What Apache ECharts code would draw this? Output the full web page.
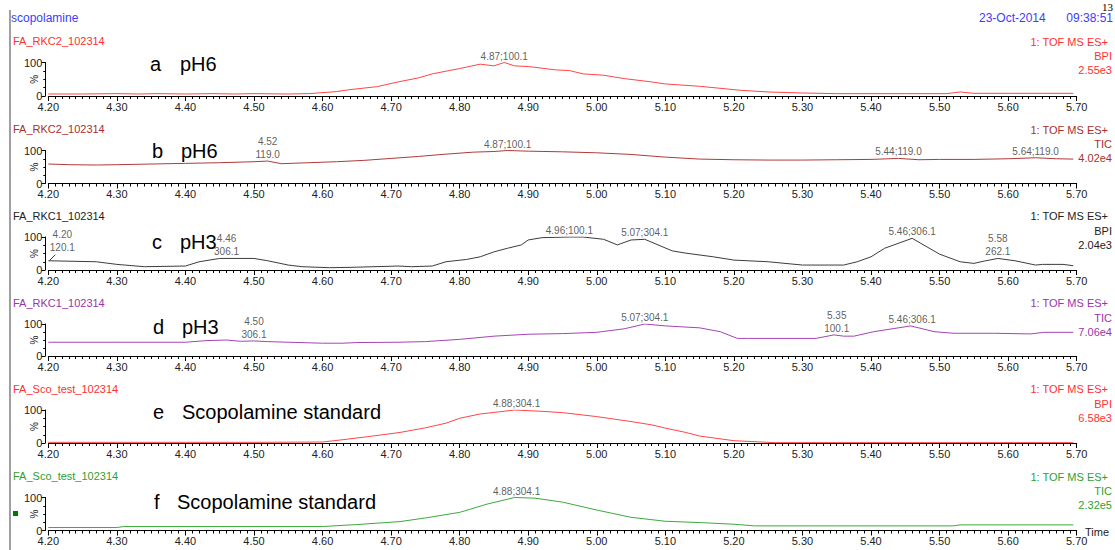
<!DOCTYPE html>
<html><head><meta charset="utf-8">
<script src="https://cdn.jsdelivr.net/npm/echarts@6/dist/echarts.min.js"></script>
<style>html,body{margin:0;padding:0;background:#fff}#c{width:1115px;height:550px}</style>
</head><body><div id="c"></div>
<script>
// ---------- data ----------
const tA = [4.20,4.25,4.30,4.33,4.36,4.40,4.44,4.47,4.50,4.55,4.58,4.62,4.64,4.68,4.71,4.74,4.76,4.80,4.83,4.85,4.865,4.88,4.90,4.94,4.96,4.98,5.01,5.04,5.08,5.10,5.15,5.21,5.25,5.30,5.35,5.45,5.51,5.53,5.55,5.60,5.65,5.695];
const vA = [6,6,7,6,7,6,7,6,7,6,7,13,19,28,42,54,66,82,95,90,100,90,88,78,76,66,62,52,42,36,29,17,12,9,7,7,7,12,8,8,8,8];
const tB = [4.20,4.23,4.27,4.30,4.35,4.40,4.45,4.50,4.52,4.54,4.58,4.62,4.66,4.70,4.74,4.78,4.82,4.85,4.87,4.90,4.95,5.00,5.05,5.10,5.15,5.20,5.25,5.30,5.35,5.40,5.44,5.47,5.50,5.55,5.60,5.64,5.67,5.695];
const vB = [59,57,56,57,59,61,63,66,68,60,63,66,70,76,82,89,95,97,100,98,96,93,88,80,74,72,71,71,72,73,76,72,73,73,75,78,75,74];
const tC = [4.20,4.27,4.30,4.34,4.40,4.42,4.45,4.50,4.52,4.55,4.57,4.61,4.64,4.71,4.73,4.76,4.78,4.81,4.83,4.85,4.87,4.89,4.90,4.92,4.96,4.98,5.01,5.03,5.05,5.07,5.11,5.13,5.17,5.20,5.25,5.30,5.36,5.38,5.40,5.42,5.46,5.50,5.53,5.55,5.565,5.585,5.61,5.64,5.65,5.68,5.695];
const vC = [28,25,17,10,12,25,35,35,28,15,10,7,8,12,10,12,25,32,40,55,66,76,91,98,100,100,93,76,91,93,58,51,40,30,25,15,15,25,40,66,96,48,25,20,27,35,28,15,17,17,13];
const tD = [4.20,4.30,4.40,4.43,4.46,4.48,4.50,4.52,4.55,4.60,4.63,4.65,4.71,4.75,4.80,4.85,4.90,4.95,5.00,5.04,5.07,5.10,5.15,5.18,5.205,5.22,5.32,5.346,5.36,5.375,5.404,5.458,5.492,5.521,5.58,5.633,5.652,5.695];
const vD = [43,43,43,48,50,46,47,45,43,40,40,42,43,45,52,62,68,70,74,85,100,94,88,76,55,55,55,66,62,62,76,94,76,71,71,69,74,74];
const tE = [4.20,4.30,4.40,4.50,4.60,4.63,4.665,4.684,4.713,4.75,4.78,4.80,4.83,4.86,4.88,4.92,4.95,5.00,5.05,5.08,5.10,5.13,5.15,5.20,5.26,5.35,5.45,5.55,5.695];
const vE = [2,2,2,2,3,10,19,24,32,46,60,75,88,95,100,96,92,80,65,55,45,32,21,7,1,1,1,1,1];
const tF = [4.20,4.30,4.31,4.45,4.60,4.65,4.713,4.75,4.80,4.84,4.88,4.91,4.95,5.00,5.05,5.10,5.151,5.20,5.23,5.35,5.52,5.53,5.695];
const vF = [9,9,12,12,12,18,27,38,55,80,100,98,86,62,40,28,24,19,14,14,14,17,17];

// peak annotations: [time, intensity %, text]
const annA = [[4.865,100,'4.87;100.1']];
const annB = [[4.52,68,'4.52\n119.0'],[4.87,100,'4.87;100.1'],[5.44,76,'5.44;119.0'],[5.64,78,'5.64;119.0']];
const annC = [[4.20,28,'4.20\n120.1'],[4.46,36,'4.46\n306.1'],[4.96,100,'4.96;100.1'],[5.07,93,'5.07;304.1'],[5.46,96,'5.46;306.1'],[5.585,35,'5.58\n262.1']];
const annD = [[4.50,48,'4.50\n306.1'],[5.07,100,'5.07;304.1'],[5.35,66,'5.35\n100.1'],[5.46,94,'5.46;306.1']];
const annE = [[4.883,100,'4.88;304.1']];
const annF = [[4.883,100,'4.88;304.1']];

const sampleNames = ['FA_RKC2_102314','FA_RKC2_102314','FA_RKC1_102314','FA_RKC1_102314','FA_Sco_test_102314','FA_Sco_test_102314'];
const panelLetters = ['a','b','c','d','e','f'];
const panelTitles = ['pH6','pH6','pH3','pH3','Scopolamine standard','Scopolamine standard'];
const functionName = '1: TOF MS ES+';
const traceTypes = ['BPI','TIC','BPI','TIC','BPI','TIC'];
const scaleValues = ['2.55e3','4.02e4','2.04e3','7.06e4','6.58e3','2.32e5'];
const headerTitle = 'scopolamine';
const headerDate = '23-Oct-2014';
const headerTime = '09:38:51';
const pageNumber = '13';
const xMin = 4.2, xMax = 5.7, xStep = 0.1;

// ---------- layout / style ----------
const FONT = "'Liberation Sans', Arial, sans-serif";
const lineColors = ['#ff4545','#b03a3a','#3c3c3c','#a444b4','#ff4545','#3caa3c'];
const textColors = ['#ff3030','#a83030','#222222','#9a34aa','#ff3030','#2f9f2f'];
const gridTops = [62.5,150.5,237,324,410,497.5];
const gridHeights = [33.5,33,33,32,33,33];
const letterX = [150,152,152,153,153,154];
const phraseX = [180,181,180,182,182,177];
const bigLabelDy = [1.5,0,4.5,2.5,1.5,4.5];
const GRID_LEFT = 48.3, GRID_W = 1028.4;

const times = [tA,tB,tC,tD,tE,tF];
const vals = [vA,vB,vC,vD,vE,vF];
const anns = [annA,annB,annC,annD,annE,annF];

const grids = [], xAxes = [], yAxes = [], series = [], graphics = [];
for (let i = 0; i < 6; i++) {
  grids.push({left: GRID_LEFT, width: GRID_W, top: gridTops[i], height: gridHeights[i]});
  xAxes.push({
    type: 'value', gridIndex: i, min: xMin, max: xMax, interval: xStep,
    axisLine: {show: true, onZero: false, lineStyle: {color: '#000', width: 1}},
    axisTick: {show: true, length: 5, lineStyle: {color: '#000'}},
    minorTick: {show: true, splitNumber: 10, length: 3, lineStyle: {color: '#000'}},
    axisLabel: {fontSize: 11, color: '#222', margin: 5, fontFamily: FONT,
                formatter: v => v.toFixed(2), showMinLabel: true, showMaxLabel: true},
    splitLine: {show: false}, minorSplitLine: {show: false}
  });
  yAxes.push({
    type: 'value', gridIndex: i, min: 0, max: 100, interval: 100, offset: 3,
    axisLine: {show: true, lineStyle: {color: '#000', width: 1}},
    axisTick: {show: true, length: 4, lineStyle: {color: '#000'}},
    minorTick: {show: true, splitNumber: 4, length: 2, lineStyle: {color: '#000'}},
    axisLabel: {fontSize: 11, color: '#222', margin: 3, fontFamily: FONT},
    splitLine: {show: false},
    name: '%', nameLocation: 'middle', nameRotate: 90, nameGap: 6, nameMoveOverlap: false,
    nameTextStyle: {fontSize: 10, color: '#222', fontFamily: FONT}
  });
  series.push({
    type: 'line', xAxisIndex: i, yAxisIndex: i, symbol: 'none', silent: true,
    lineStyle: {color: lineColors[i], width: 1},
    data: times[i].map((t, k) => [t, vals[i][k]])
  });
  const ann = anns[i];
  series.push({
    type: 'scatter', xAxisIndex: i, yAxisIndex: i, symbolSize: 0, silent: true, z: 5,
    data: ann.map(a => [a[0], a[1]]),
    label: {show: true, position: 'top', distance: 0, fontSize: 10, lineHeight: 13,
            color: '#333', fontFamily: FONT, formatter: p => ann[p.dataIndex][2]},
    labelLayout: p => (ann[p.dataIndex][0] <= xMin ? {dx: 14, dy: -7} : {})
  });
  const yTop = gridTops[i];
  graphics.push(
    {type: 'text', left: 13, top: yTop - 27, style: {text: sampleNames[i], fill: textColors[i], font: `11px ${FONT}`}},
    {type: 'text', x: 1108, y: yTop - 21, style: {text: functionName, fill: textColors[i], font: `11px ${FONT}`, textAlign: 'right', textVerticalAlign: 'middle'}},
    {type: 'text', x: 1112, y: yTop - 6.5, style: {text: traceTypes[i], fill: textColors[i], font: `11px ${FONT}`, textAlign: 'right', textVerticalAlign: 'middle'}},
    {type: 'text', x: 1112, y: yTop + 7.5, style: {text: scaleValues[i], fill: textColors[i], font: `11px ${FONT}`, textAlign: 'right', textVerticalAlign: 'middle'}},
    {type: 'text', x: letterX[i], y: yTop + bigLabelDy[i], style: {text: panelLetters[i], fill: '#000', font: `20px ${FONT}`, textVerticalAlign: 'middle'}},
    {type: 'text', x: phraseX[i], y: yTop + bigLabelDy[i], style: {text: panelTitles[i], fill: '#000', font: `20px ${FONT}`, textVerticalAlign: 'middle'}}
  );
}
graphics.push(
  {type: 'line', shape: {x1: 10, y1: 10, x2: 10, y2: 550}, style: {stroke: '#a0a0a0', lineWidth: 2}},
  {type: 'text', x: 11, y: 18, style: {text: headerTitle, fill: '#3c3cff', font: `12px ${FONT}`, textVerticalAlign: 'middle'}},
  {type: 'text', x: 979, y: 18, style: {text: headerDate, fill: '#3c3cff', font: `12px ${FONT}`, textVerticalAlign: 'middle'}},
  {type: 'text', x: 1113, y: 18, style: {text: headerTime, fill: '#3c3cff', font: `12px ${FONT}`, textAlign: 'right', textVerticalAlign: 'middle'}},
  {type: 'text', x: 1113, y: 1, style: {text: pageNumber, fill: '#000', font: `11px 'Liberation Serif', serif`, textAlign: 'right', textVerticalAlign: 'top'}},
  {type: 'rect', shape: {x: 13, y: 511, width: 5, height: 5}, style: {fill: '#007a00'}},
  {type: 'text', x: 1085, y: 532, style: {text: 'Time', fill: '#222', font: `11px ${FONT}`, textVerticalAlign: 'middle'}}
);

const chart = echarts.init(document.getElementById('c'), null, {renderer: 'svg'});
chart.setOption({
  animation: false,
  backgroundColor: '#fff',
  grid: grids, xAxis: xAxes, yAxis: yAxes, series: series, graphic: graphics
});
// leader line for the annotation sitting on the left edge of panel c
const lead = annC.find(a => a[0] <= xMin);
if (lead) {
  const p = chart.convertToPixel({gridIndex: 2}, [lead[0], lead[1]]);
  graphics.push({type: 'line', shape: {x1: p[0] + 1, y1: p[1], x2: p[0] + 7, y2: p[1] - 6}, style: {stroke: '#333', lineWidth: 1}});
  chart.setOption({graphic: graphics});
}
</script>
</body></html>
